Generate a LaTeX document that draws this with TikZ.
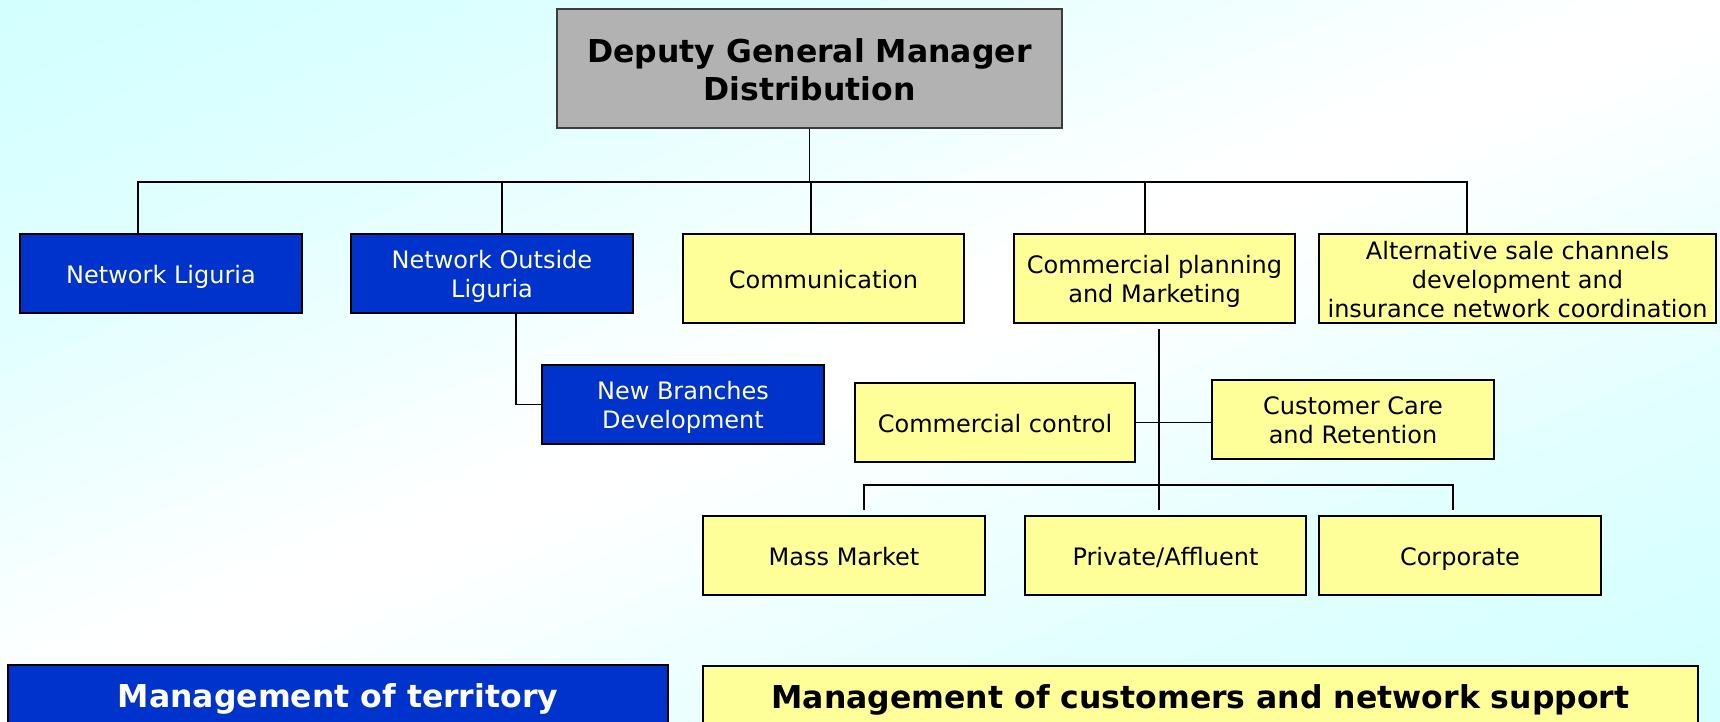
\documentclass[tikz,border=0pt]{standalone}
\usepackage{fontspec}
\setmainfont{DejaVu Sans}
\definecolor{boxblue}{RGB}{0,51,204}
\definecolor{boxyellow}{RGB}{255,255,153}
\definecolor{boxgray}{RGB}{178,178,178}
\definecolor{paletext}{RGB}{255,255,215}
\definecolor{bgcyan}{RGB}{212,255,255}
\newcommand{\tsm}{\rule{0pt}{25.5pt}}
\newcommand{\dsm}{\rule[-6pt]{0pt}{0pt}}
\newcommand{\tbg}{\rule{0pt}{33.5pt}}
\newcommand{\dbg}{\rule[-8pt]{0pt}{0pt}}
\begin{document}
\begin{tikzpicture}[x=1pt,y=-1pt,
  base/.style={draw=black, line width=2pt, inner sep=0pt, align=center, anchor=center},
  small/.style={font=\fontsize{24}{28.8}\selectfont},
  big/.style={font=\fontsize{31.5}{38.4}\selectfont\bfseries},
  bluebox/.style={base, small, fill=boxblue, text=paletext},
  yelbox/.style={base, small, fill=boxyellow, text=black},
  conn/.style={draw=black, line width=1.8pt}]
\useasboundingbox (0,0) rectangle (1720,722);
% background: diagonal gradient cyan - white - cyan
\begin{scope}
\clip (0,0) rectangle (1720,722);
\foreach \i in {0,...,49}{
  \pgfmathsetmacro{\sa}{\i*0.04}
  \pgfmathsetmacro{\sb}{\sa+0.046}
  \pgfmathsetmacro{\sm}{\sa+0.02}
  \pgfmathsetmacro{\dd}{min(\sm,2-\sm)}
  \pgfmathsetmacro{\pc}{100*max(0,1-(\dd/0.95)^1.5)}
  \fill[bgcyan!\pc!white] (\sa*1720,0) -- (\sb*1720,0) -- (0,\sb*722) -- (0,\sa*722) -- cycle;
}
\end{scope}

% top
\node[base, big, fill=boxgray, draw={rgb,255:red,60;green,60;blue,60}, minimum width=505pt, minimum height=119pt] (dgm) at (809.5,68.5) {\tbg Deputy General Manager\\Distribution\dbg};

% level 1
\node[bluebox, minimum width=282pt, minimum height=79pt] (nl) at (161,273.5) {\tsm Network Liguria\dsm};
\node[bluebox, minimum width=282pt, minimum height=79pt] (nol) at (492,273.5) {\tsm Network Outside\\Liguria\dsm};
\node[yelbox, minimum width=281pt, minimum height=89pt] (comm) at (823.5,278.5) {\tsm Communication\dsm};
\node[yelbox, minimum width=281pt, minimum height=89pt] (cpm) at (1154.5,278.5) {\tsm Commercial planning\\and Marketing\dsm};
\node[yelbox, minimum width=397pt, minimum height=89pt] (alt) at (1517.5,278.5) {\tsm Alternative sale channels\\development and\\insurance network coordination\dsm};

% level 2
\node[bluebox, minimum width=282pt, minimum height=79pt] (nbd) at (683,404.5) {\tsm New Branches\\Development\dsm};
\node[yelbox, minimum width=280pt, minimum height=79pt] (cc) at (995,422.5) {\tsm Commercial control\dsm};
\node[yelbox, minimum width=282pt, minimum height=79pt] (ccr) at (1353,419.5) {\tsm Customer Care\\and Retention\dsm};

% level 3
\node[yelbox, minimum width=282pt, minimum height=79pt] (mm) at (844,555.5) {\tsm Mass Market\dsm};
\node[yelbox, minimum width=281pt, minimum height=79pt] (pa) at (1165.5,555.5) {\tsm Private/Affluent\dsm};
\node[yelbox, minimum width=282pt, minimum height=79pt] (corp) at (1460,555.5) {\tsm Corporate\dsm};

% banners
\node[base, big, fill=boxblue, text=white, minimum width=660pt, minimum height=60pt] (mt) at (338,695) {\tbg Management of territory\dbg};
\node[base, big, fill=boxyellow, text=black, minimum width=995pt, minimum height=60pt] (mc) at (1200.5,696) {\tbg Management of customers and network support\dbg};

% connectors
\coordinate (bus) at (0,182);
\coordinate (bbus) at (0,485);
\coordinate (nlT) at ([xshift=-23pt]nl.north);
\coordinate (nolT) at ([xshift=10pt]nol.north);
\coordinate (commT) at ([xshift=-12.5pt]comm.north);
\coordinate (cpmT) at ([xshift=-9.5pt]cpm.north);
\coordinate (altT) at ([xshift=-50.5pt]alt.north);
\coordinate (nolB) at ([xshift=24pt]nol.south);
\coordinate (cpmB) at ([xshift=4.5pt,yshift=-5pt]cpm.south);
\coordinate (paT) at ([xshift=-6.5pt,yshift=5pt]pa.north);
\coordinate (mmT) at ([xshift=20pt,yshift=5pt]mm.north);
\coordinate (corpT) at ([xshift=-7pt,yshift=5pt]corp.north);

\draw[conn] (dgm.south) -- (dgm.south |- bus);
\draw[conn] (nlT) -- (nlT |- bus) -- (altT |- bus) -- (altT);
\draw[conn] (nolT) -- (nolT |- bus);
\draw[conn] (commT) -- (commT |- bus);
\draw[conn] (cpmT) -- (cpmT |- bus);
\draw[conn] (nolB) |- (nbd.west);
\draw[conn] (cpmB) -- (paT);
\draw[conn] (cc.east) -- (cc.east -| ccr.west);
\draw[conn] (mmT) -- (mmT |- bbus) -- (corpT |- bbus) -- (corpT);
\end{tikzpicture}
\end{document}
